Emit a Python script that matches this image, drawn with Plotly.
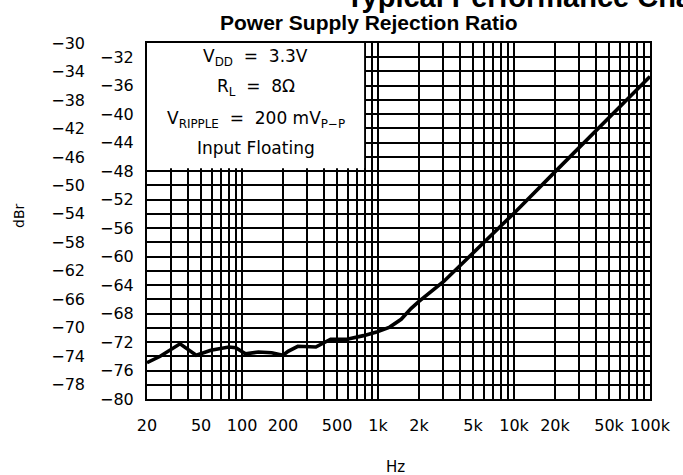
import math
import plotly.graph_objects as go

# Power supply rejection ratio vs. frequency
freq_hz = [20, 25, 35, 46, 59, 80, 90, 106, 132, 165, 200, 218, 257, 300, 349,
           448, 592, 782, 975, 1219, 1479, 1747, 2000, 3041, 5000, 7600,
           10000, 20000, 50000, 100000]
psrr_dbr = [-74.9, -74.0, -72.25, -73.85, -73.15, -72.7, -72.8, -73.65, -73.4,
            -73.5, -73.85, -73.3, -72.6, -72.65, -72.7, -71.6, -71.6, -71.1,
            -70.6, -69.9, -68.8, -67.3, -66.3, -63.5, -59.5, -56.2, -53.9,
            -48.1, -40.4, -34.7]

# labelled frequencies and the remaining 1..9 multiples used as grid only
x_tick_vals = [20, 50, 100, 200, 500, 1000, 2000, 5000, 10000, 20000, 50000, 100000]
x_tick_text = ["20", "50", "100", "200", "500", "1k", "2k", "5k", "10k", "20k", "50k", "100k"]
x_grid_only = [30, 40, 60, 70, 80, 90,
               300, 400, 600, 700, 800, 900,
               3000, 4000, 6000, 7000, 8000, 9000,
               30000, 40000, 60000, 70000, 80000, 90000]

# dB labels alternate between two columns, grid every 2 dB
y_inner_labels = list(range(-80, -31, 4))   # -80, -76, ... -32
y_outer_labels = list(range(-78, -29, 4))   # -78, -74, ... -30

MINUS = "\u2212"


def fmt(v):
    return (MINUS + str(-v)) if v < 0 else str(v)


TICK_FONT = dict(family="DejaVu Sans", size=16, color="black")
GRID_W = 1.7
NB = "\u00a0"

fig = go.Figure()
fig.add_trace(go.Scatter(
    x=freq_hz, y=psrr_dbr, mode="lines",
    line=dict(color="black", width=3.6),
    showlegend=False, hoverinfo="skip",
))
# empty trace so the second label column axis is drawn
fig.add_trace(go.Scatter(x=[], y=[], yaxis="y2", showlegend=False, hoverinfo="skip"))

fig.update_layout(
    width=683, height=475,
    margin=dict(l=147, r=25, t=43, b=76),
    paper_bgcolor="white", plot_bgcolor="white",
    xaxis=dict(
        type="log", range=[math.log10(20), math.log10(100000)],
        tickmode="array", tickvals=x_tick_vals, ticktext=x_tick_text,
        showgrid=True, gridcolor="black", gridwidth=GRID_W,
        minor=dict(tickmode="array", tickvals=x_grid_only, showgrid=True,
                   gridcolor="black", gridwidth=GRID_W, ticks=""),
        showline=True, linecolor="black", linewidth=2, mirror=True,
        ticks="", tickfont=TICK_FONT, ticklabelstandoff=11,
        zeroline=False,
    ),
    yaxis=dict(
        range=[-80, -30],
        tickmode="array", tickvals=y_inner_labels,
        ticktext=[fmt(v) for v in y_inner_labels],
        showgrid=True, gridcolor="black", gridwidth=GRID_W,
        minor=dict(tickmode="array", tickvals=y_outer_labels, showgrid=True,
                   gridcolor="black", gridwidth=GRID_W, ticks=""),
        showline=True, linecolor="black", linewidth=2, mirror=True,
        ticks="", tickfont=TICK_FONT, ticklabelstandoff=8,
        zeroline=False,
    ),
    yaxis2=dict(
        overlaying="y", anchor="free", position=0, side="left",
        range=[-80, -30],
        tickmode="array", tickvals=y_outer_labels,
        ticktext=[fmt(v) for v in y_outer_labels],
        showgrid=False, showline=False, zeroline=False,
        ticks="", tickfont=TICK_FONT, ticklabelstandoff=62,
    ),
)

# white legend panel hiding the grid in the upper-left corner
fig.add_shape(type="rect", xref="x", yref="y",
              x0=20, x1=790, y0=-47.6, y1=-30,
              fillcolor="white", line=dict(width=0), layer="between")

BOX_FONT = dict(family="DejaVu Sans", size=17, color="black")
box_lines = [
    ("V<sub>DD</sub>" + NB * 2 + "=" + NB * 2 + "3.3V", -32.0),
    ("R<sub>L</sub>" + NB * 2 + "=" + NB * 2 + "8\u03a9", -36.3),
    ("V<sub>RIPPLE</sub>" + NB * 2 + "=" + NB * 2 + "200" + NB + "mV<sub>P\u2212P</sub>", -40.7),
    ("Input Floating", -44.8),
]
for text, yv in box_lines:
    fig.add_annotation(text=text, xref="paper", yref="y", x=0.216, y=yv,
                       xanchor="center", yanchor="middle", showarrow=False,
                       font=BOX_FONT)

fig.add_annotation(text="<b>Power Supply Rejection Ratio</b>",
                   xref="paper", yref="paper", x=0.442, y=1.0575,
                   xanchor="center", yanchor="middle", showarrow=False,
                   font=dict(family="Liberation Sans", size=21, color="black"))
fig.add_annotation(text="<b>Typical Performance Characteristics</b>",
                   xref="paper", yref="paper", x=(347 - 147) / 511, y=1.08,
                   xanchor="left", yanchor="bottom", showarrow=False,
                   font=dict(family="Liberation Sans", size=29, color="black"))
fig.add_annotation(text="dBr", xref="paper", yref="paper", x=-0.256, y=0.515,
                   xanchor="center", yanchor="middle", textangle=-90,
                   showarrow=False, font=dict(family="DejaVu Sans", size=14, color="black"))
fig.add_annotation(text="Hz", xref="paper", yref="paper", x=0.495, y=-0.19,
                   xanchor="center", yanchor="middle", showarrow=False,
                   font=dict(family="DejaVu Sans", size=15, color="black"))

fig.write_html("out.html")
